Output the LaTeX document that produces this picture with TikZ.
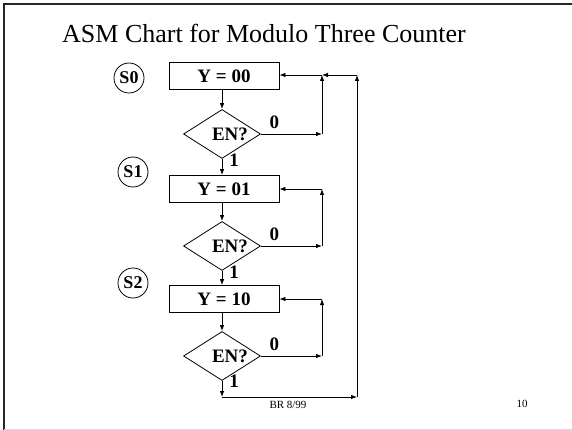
\documentclass[tikz,border=0pt]{standalone}
\usepackage{fontspec}
\setmainfont{Liberation Serif}
\usetikzlibrary{shapes.geometric,arrows.meta}

\begin{document}
\begin{tikzpicture}[x=1pt,y=-1pt,
    statebox/.style={draw, line width=0.8pt, minimum width=110pt, minimum height=27pt, inner sep=0pt, font=\fontsize{19}{21}\selectfont\bfseries},
    decision/.style={draw, diamond, line width=0.8pt, minimum width=77pt, minimum height=49pt, inner sep=0pt},
    statename/.style={draw, circle, line width=0.8pt, minimum size=30pt, inner sep=0pt, font=\fontsize{18}{20}\selectfont\bfseries},
    lbl/.style={font=\fontsize{19}{21}\selectfont\bfseries, inner sep=1pt},
    arr/.style={line width=0.8pt, -{Latex[length=6pt,width=4.5pt]}}]

\useasboundingbox (0,0) rectangle (572,430);

% Slide frame
\draw[line width=2.5pt, black!85] (4,430) -- (4,4) -- (572,4);
\draw[line width=1pt, black!15] (4,429.5) -- (572,429.5);

% Title
\node[anchor=base, font=\fontsize{26}{30}\selectfont] (title) at (264,43) {ASM Chart for Modulo Three Counter};

% State boxes
\node[statebox] (state0) at (224,76) {Y = 00};
\node[statebox] (state1) at (224,189) {Y = 01};
\node[statebox] (state2) at (224,299) {Y = 10};

% Decision boxes (text sits a bit right of centre)
\node[decision, label={[lbl, xshift=8pt]center:EN?}] (dec0) at (222,134) {};
\node[decision, label={[lbl, xshift=8pt]center:EN?}] (dec1) at (222,246) {};
\node[decision, label={[lbl, xshift=8pt]center:EN?}] (dec2) at (222,356) {};

% State names
\node[statename] (s0) at (129,78) {S0};
\node[statename] (s1) at (133,172) {S1};
\node[statename] (s2) at (133,283) {S2};

% Corners of the loops
\coordinate (r0) at (322,134);
\coordinate (t0) at (322,75);
\coordinate (r1) at (322,246);
\coordinate (t1) at (322,189);
\coordinate (r2) at (322,356);
\coordinate (t2) at (322,299);
\coordinate (b2) at (222,397);
\coordinate (b3) at (357,397);
\coordinate (t3) at (357,75);

% Box to decision
\draw[arr] (state0.south -| dec0) -- (dec0);
\draw[arr] (state1.south -| dec1) -- (dec1);
\draw[arr] (state2.south -| dec2) -- (dec2);

% EN = 0 : stay
\draw[arr] (dec0.east) -- node[lbl, above=4pt, pos=0.22] {0} (r0);
\draw[arr] (r0) -- (t0);
\draw[arr] (t0) -- (t0 -| state0.east);
\draw[arr] (dec1.east) -- node[lbl, above=4pt, pos=0.22] {0} (r1);
\draw[arr] (r1) -- (t1);
\draw[arr] (t1) -- (state1.east);
\draw[arr] (dec2.east) -- node[lbl, above=4pt, pos=0.22] {0} (r2);
\draw[arr] (r2) -- (t2);
\draw[arr] (t2) -- (state2.east);

% EN = 1 : next state
\draw[arr] (dec0.south) -- node[lbl, right=6pt, pos=0.1] {1} (dec0.south |- state1.north);
\draw[arr] (dec1.south) -- node[lbl, right=6pt, pos=0.1] {1} (dec1.south |- state2.north);
\draw[arr] (dec2.south) -- node[lbl, right=6pt, pos=0.05] {1} (b2);
\draw[arr] (b2) -- (b3);
\draw[arr] (b3) -- (t3);
\draw[arr] (t3) -- (t0);

% Footer
\node[font=\fontsize{11}{13}\selectfont] (footer) at (288,405) {BR 8/99};
\node[font=\fontsize{11}{13}\selectfont] (page) at (522,404) {10};

\end{tikzpicture}
\end{document}
